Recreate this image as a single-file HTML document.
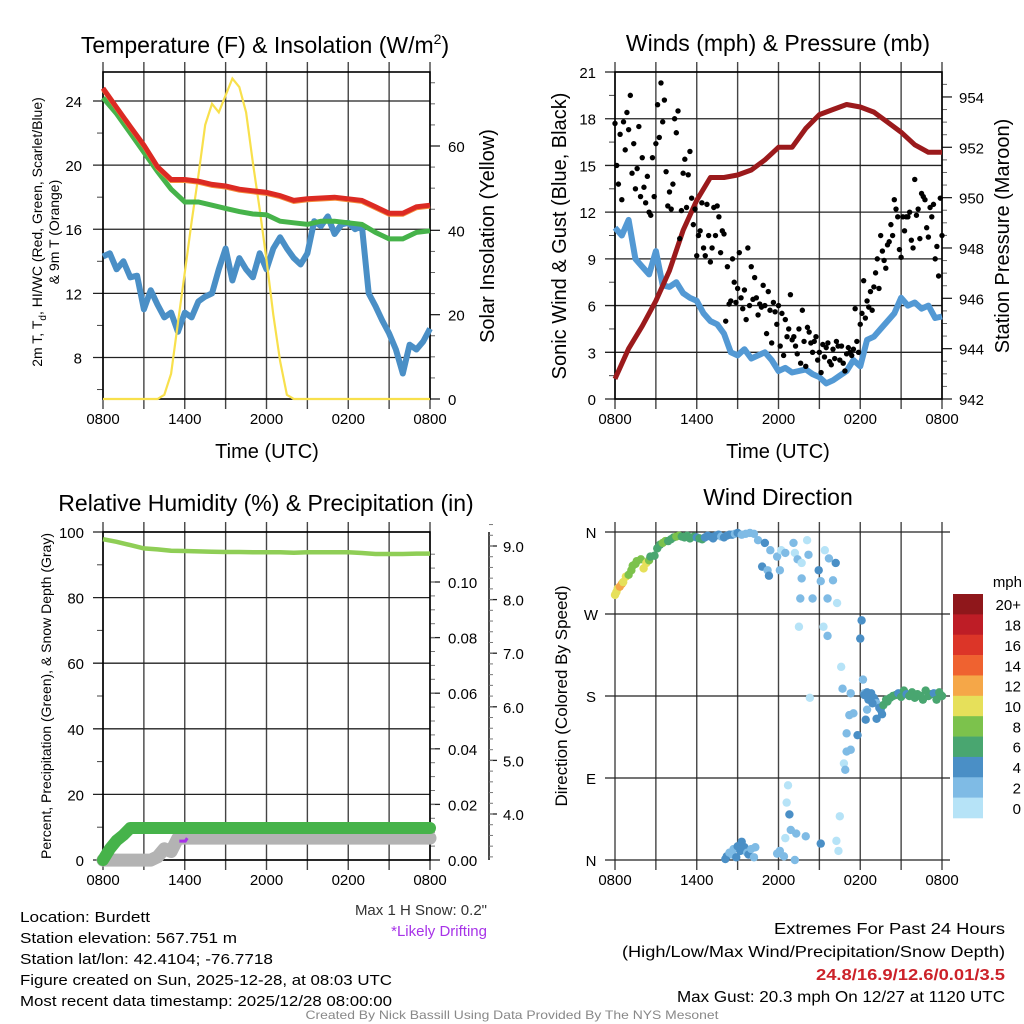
<!DOCTYPE html>
<html><head><meta charset="utf-8"><style>
html,body{margin:0;padding:0;background:#fff;}
svg{display:block;font-family:"Liberation Sans",Arial,sans-serif;}
</style></head><body>
<svg id="c" width="1024" height="1024" viewBox="0 0 1024 1024" xmlns="http://www.w3.org/2000/svg"></svg>
<script>
// ---------- data ----------
const hours = [0,1,2,3,4,5,6,7,8,9,10,11,12,13,14,15,16,17,18,19,20,21,22,23,24];
const tempF = [24.8,23.6,22.4,21.25,19.9,19.1,19.1,19.0,18.8,18.7,18.5,18.4,18.3,18.1,17.8,17.9,17.95,18.0,17.9,17.8,17.4,17.0,17.0,17.4,17.5];
const dewF = [24.2,23.2,22.0,20.8,19.6,18.5,17.7,17.7,17.5,17.3,17.1,16.95,16.9,16.5,16.4,16.3,16.5,16.5,16.4,16.3,15.8,15.4,15.4,15.8,15.9];
const windChillF = [14.3,14.5,13.5,14.0,13.0,13.1,11.0,12.2,11.3,10.5,10.8,9.6,10.8,10.5,11.5,11.8,12.0,13.5,14.8,12.8,14.2,13.5,13.0,14.5,13.5,14.8,15.5,14.8,14.2,13.8,14.5,16.5,16.2,16.8,15.7,16.3,16.4,16.0,16.2,12.0,11.2,10.3,9.5,8.5,7.0,8.8,8.5,9.0,9.8];
const insolation = [0,0,0,0,0,0,0,0,0,1,6,18,30,42,53,65,70,68,72,76,74,68,56,45,33,20,9,1,0,0,0,0,0,0,0,0,0,0,0,0,0,0,0,0,0,0,0,0,0];
const windMph = [11,10.5,11.5,9,8.5,8,9.5,7.3,7.2,7.5,6.8,6.5,6.3,5.5,5.0,4.8,4.2,3.0,2.8,3.2,2.6,2.8,3.0,2.5,1.8,2.0,1.7,1.8,1.9,1.6,1.4,1.0,1.2,1.5,1.8,2.5,2.1,3.8,4.0,4.5,5.0,5.5,6.5,6.0,6.2,5.8,6.0,5.2,5.3];
const pressureMb = [942.8,944.0,944.9,945.9,947.1,948.7,949.9,950.8,950.8,950.9,951.1,951.5,952.0,952.0,952.75,953.3,953.5,953.7,953.6,953.4,953.0,952.6,952.1,951.8,951.8];
const gustMph = [17.7,15.0,13.8,17.0,12.8,17.8,16.0,18.4, 17.3,19.5,14.5,16.4,13.5,14.8,17.5,13.0, 15.5,13.6,12.6,14.3,12.0,11.8,15.5,13.0, 16.4,18.9,16.8,20.3,17.8,19.2,14.6,12.4, 13.3,12.2,13.8,18.0,17.1,18.5,10.3,12.1, 14.5,15.4,12.3,14.4,15.9,12.9,11.2,12.2, 9.2,10.5,10.8,12.6,9.7,9.2,12.5,10.5, 8.8,9.7,12.3,10.5,12.4,11.7,9.4,10.8, 10.6,5.0,8.5,6.1,6.3,9.0,7.5,6.2, 7.1,9.4,6.5,5.8,7.0,5.1,9.7,6.0, 8.5,6.4,7.8,6.5,5.4,6.1,5.9,7.3, 6.0,4.2,6.9,5.7,3.6,6.2,5.6,4.8, 6.0,3.4,5.5,2.8,5.1,4.0,4.5,6.7, 3.8,4.0,3.4,2.9,4.5,2.3,5.7,3.7, 2.1,4.6,4.3,3.6,3.0,3.7,4.0,2.5, 3.0,1.7,3.5,2.7,3.3,3.6,2.4,2.2, 3.2,2.6,3.7,3.4,2.5,3.4,2.3,1.8, 2.9,3.3,3.0,2.8,3.2,5.8,3.7,3.0, 4.8,5.5,7.6,5.2,6.3,5.9,6.9,5.7, 7.2,8.1,9.0,7.1,10.5,9.5,8.9,8.4, 9.9,10.1,11.2,10.5,12.8,12.2,11.7,9.6, 9.1,11.7,10.8,11.7,11.7,12.0,10.2,9.7, 14.1,11.8,12.2,10.3,13.2,13.0,12.8,11.0, 10.4,12.3,11.7,12.5,9.0,9.8,7.9,12.9, 10.5];
const rhPct = [97.8,97.0,96.0,95.0,94.7,94.3,94.2,94.1,94.0,93.9,93.9,93.8,93.8,93.8,93.7,93.8,93.8,93.8,93.8,93.6,93.3,93.3,93.3,93.4,93.4];
const precipIn = [0,0.004,0.007,0.009,0.0115,0.0115,0.0115,0.0115,0.0115,0.0115,0.0115,0.0115,0.0115,0.0115,0.0115,0.0115,0.0115,0.0115,0.0115,0.0115,0.0115,0.0115,0.0115,0.0115,0.0115,0.0115,0.0115,0.0115,0.0115,0.0115,0.0115,0.0115,0.0115,0.0115,0.0115,0.0115,0.0115,0.0115,0.0115,0.0115,0.0115,0.0115,0.0115,0.0115,0.0115,0.0115,0.0115,0.0115,0.0115];
const snowIn = [3.14,3.14,3.14,3.14,3.14,3.14,3.14,3.14,3.2,3.35,3.3,3.55,3.55,3.55,3.55,3.55,3.55,3.55,3.55,3.55,3.55,3.55,3.55,3.55,3.55,3.55,3.55,3.55,3.55,3.55,3.55,3.55,3.55,3.55,3.55,3.55,3.55,3.55,3.55,3.55,3.55,3.55,3.55,3.55,3.55,3.55,3.55,3.55,3.55];
const dirTime = [0,0.1,0.2,0.35,0.5,0.6,0.8,1.0,1.2,1.3,1.5,1.6,1.9,2.1,2.3,2.5,2.6,2.9,3.1,3.3,3.5,3.7,3.9,4.1,4.3,4.5,4.7,4.9,5.1,5.3,5.5,5.8,6.0,6.2,6.4,6.6,6.8,7.0,7.2,7.4,7.6,7.8,8.0,8.2,8.4,8.6,8.8,9.0,9.3,9.6,9.9,10.2,10.5,
 10.8,11.0,11.2,11.3,11.4,11.9,12.1,12.2,12.5,13.1,13.2,13.4,13.7,13.7,13.6,13.5,14.1,14.2,14.3,14.5,14.95,15.1,15.4,15.7,15.6,15.3,15.6,16.0,16.2,16.3,16.6,16.7,16.8,16.9,17.0,17.0,17.3,17.2,17.5,17.3,18.1,18.0,17.8,18.4,18.2,18.3,
 18.3,18.5,18.6,18.8,19.0,19.1,19.2,19.4,19.5,19.7,19.9,20.0,20.2,20.4,20.6,20.8,21.0,21.2,21.4,21.6,21.8,22.0,22.2,22.4,22.6,22.8,23.0,23.2,23.4,23.6,23.8,24.0,18.5,18.9,19.6,19.2,
 8.1,8.2,8.4,8.6,8.7,8.9,9.0,9.2,9.3,9.5,9.7,9.8,10.0,10.2,10.3,11.9,12.1,12.4,12.5,12.6,12.7,12.8,12.9,13.2,13.3,14.0,15.1,16.25,16.4,16.5];
const dirDeg = [291,294,298,300,303,305,311,313,318,323,325,328,330,320,326,329,333,334,342,346,348,350,350,352,354,355,356,355,354,356,353,355,354,353,352,354,356,355,353,356,357,355,354,356,357,357,358,359,357,358,359,358,351,
 322,348,318,312,340,333,318,340,337,348,337,330,326,309,287,256,351,335,178,287,318,306,340,331,287,256,246,307,326,282,212,188,106,99,139,119,121,159,161,183,263,243,137,154,198,183,
 181,184,176,183,178,175,172,167,165,170,176,174,178,180,181,183,179,186,182,180,184,178,182,180,176,186,180,182,183,176,184,180,165,172,160,155,
 1,4,8,6,12,3,15,10,20,14,8,6,12,3,14,7,10,4,24,63,82,50,33,0,29,26,18,21,10,48];
const dirSpd = [10,11,10,12,13,11,10,9,9,8,8,9,9,10,10,8,7,6,7,7,8,8,7,7,6,8,8,7,7,6,6,7,5,6,6,5,4,4,5,4,4,3,4,5,4,4,3,4,3,3,2,3,3,
 4,5,3,4,3,2,2,1,2,2,1,2,1,2,2,1,1,3,1,2,4,3,1,3,2,1,2,3,4,1,1,2,1,3,2,2,2,2,2,2,4,4,4,4,3,3,
 4,4,4,5,4,4,3,4,5,6,6,7,6,6,7,4,7,6,5,6,7,6,6,7,6,6,7,6,4,7,6,6,3,4,4,4,
 4,4,3,3,3,4,5,4,4,4,3,4,3,3,3,3,2,2,1,1,1,4,2,2,3,2,4,1,1,1];
const timeLabels = ["0800","1400","2000","0200","0800"];
const speedBinLabels = ["20+","18","16","14","12","10","8","6","4","2","0"];
const speedBinColors = ["#8f171b","#be1d26","#dc3528","#ef6230","#f5a748","#e6e05a","#7cc24c","#49a670","#4a8fc6","#7fbbe5","#b6e3f7"];

// ---------- helpers ----------
const NS="http://www.w3.org/2000/svg";
const svg=document.getElementById('c');
function mk(tag,attrs,parent){const e=document.createElementNS(NS,tag);for(const k in attrs)e.setAttribute(k,attrs[k]);(parent||svg).appendChild(e);return e;}
function txt(s,x,y,size,anchor,parent,extra){const e=mk('text',Object.assign({x:x,y:y,'font-size':size,'text-anchor':anchor||'middle',fill:'#000'},extra||{}),parent);e.textContent=s;return e;}
function line(x1,y1,x2,y2,col,w,parent){return mk('line',{x1:x1,y1:y1,x2:x2,y2:y2,stroke:col||'#000','stroke-width':w||1},parent);}
function pathFrom(xs,ys){let d='';for(let i=0;i<xs.length;i++)d+=(i?'L':'M')+xs[i].toFixed(1)+' '+ys[i].toFixed(1);return d;}

const X0=103,X1=430,X0b=615,X1b=942;
function xA(h){return X0+h*(X1-X0)/24;}
function xB(h){return X0b+h*(X1b-X0b)/24;}

function timeAxis(g,xf,yT,yB){
  for(let h=0;h<=24;h+=3){
    const l=line(xf(h),yT-10,xf(h),yB+10,'#444',1.4,g);
    
    
  }
  timeLabels.forEach((s,i)=>{
    const t=txt(s,xf(i*6),yB+25,15,'middle',g);
    
    
  });
}

// ================= Panel 1 =================
const g1=mk('g',{});


function tY(v){return 101+(24-v)*16.03;}
function iY(v){return 399-v*(253/60);}
timeAxis(g1,xA,72,399);
[8,12,16,20,24].forEach(v=>{const l=line(93,tY(v),X1,tY(v),'#222',1.3,g1);
  const t=txt(String(v),82,tY(v)+6,15,'end',g1);});
[6,10,14,18,22].forEach(v=>line(97,tY(v),X0,tY(v),'#444',1,g1));
[0,20,40,60].forEach(v=>{line(X1,iY(v),X1+10,iY(v),'#222',1.3,g1);
  const t=txt(String(v),448,iY(v)+6,15,'start',g1);});
[5,10,15,25,30,35,45,50,55,65,70,75].forEach(v=>line(X1,iY(v),X1+5,iY(v),'#666',1,g1));
mk('rect',{x:X0,y:72,width:X1-X0,height:327,fill:'none',stroke:'#000','stroke-width':1.6},g1);
const t1=txt('Temperature (F) & Insolation (W/m',265,53,23,'middle',g1);

const sup=mk('tspan',{dy:-9,'font-size':14},t1);sup.textContent='2';
const sup2=mk('tspan',{dy:9},t1);sup2.textContent=')';
const xt1=txt('Time (UTC)',267,458,20,'middle',g1);
const yt1=txt('2m T, T',0,0,14,'middle',g1,{transform:'translate(42,232) rotate(-90)'});

const sb=mk('tspan',{dy:4,'font-size':10},yt1);sb.textContent='d';
const sb2=mk('tspan',{dy:-4},yt1);sb2.textContent=', HI/WC (Red, Green, Scarlet/Blue)';
const yt1b=txt('& 9m T (Orange)',0,0,14,'middle',g1,{transform:'translate(59,232) rotate(-90)'});

const yr1=txt('Solar Insolation (Yellow)',0,0,20,'middle',g1,{transform:'translate(494,236) rotate(-90)'});


const half=(i)=>i*0.5;
let p=mk('path',{d:pathFrom(windChillF.map((v,i)=>xA(half(i))),windChillF.map(v=>tY(v))),fill:'none',stroke:'#4a8fc6','stroke-width':6,'stroke-linejoin':'round'},g1);

p=mk('path',{d:pathFrom(insolation.map((v,i)=>xA(half(i))),insolation.map(v=>iY(v))),fill:'none',stroke:'#f8e04c','stroke-width':2.2},g1);

p=mk('path',{d:pathFrom(hours.map(xA),dewF.map(tY)),fill:'none',stroke:'#46b34a','stroke-width':5},g1);

p=mk('path',{d:pathFrom(hours.map(xA),tempF.map(v=>tY(v)+1.5)),fill:'none',stroke:'#f58b3a','stroke-width':4},g1);

p=mk('path',{d:pathFrom(hours.map(xA),tempF.map(tY)),fill:'none',stroke:'#dc2a23','stroke-width':5},g1);


// ================= Panel 2 =================
const g2=mk('g',{});


function wY(v){return 399-v*15.57;}
function pY(v){return 399-(v-942)*25.17;}
timeAxis(g2,xB,72,399);
[0,3,6,9,12,15,18,21].forEach(v=>{const l=line(605,wY(v),X1b,wY(v),'#222',1.3,g2);
  const t=txt(String(v),596,wY(v)+6,15,'end',g2);});
[1.5,4.5,7.5,10.5,13.5,16.5,19.5].forEach(v=>line(609,wY(v),X0b,wY(v),'#444',1,g2));
[942,944,946,948,950,952,954].forEach(v=>{line(X1b,pY(v),X1b+10,pY(v),'#222',1.3,g2);
  const t=txt(String(v),959,pY(v)+6,15,'start',g2);});
for(let v=942.5;v<955;v+=0.5){if(v%2)line(X1b,pY(v),X1b+5,pY(v),'#666',1,g2);}
mk('rect',{x:X0b,y:72,width:X1b-X0b,height:327,fill:'none',stroke:'#000','stroke-width':1.6},g2);
const t2=txt('Winds (mph) & Pressure (mb)',778,51,23,'middle',g2);
const xt2=txt('Time (UTC)',778,458,20,'middle',g2);
const yt2=txt('Sonic Wind & Gust (Blue, Black)',0,0,20,'middle',g2,{transform:'translate(566,236) rotate(-90)'});
const yr2=txt('Station Pressure (Maroon)',0,0,20,'middle',g2,{transform:'translate(1009,236) rotate(-90)'});
p=mk('path',{d:pathFrom(windMph.map((v,i)=>xB(half(i))),windMph.map(wY)),fill:'none',stroke:'#5399d4','stroke-width':6,'stroke-linejoin':'round'},g2);

p=mk('path',{d:pathFrom(hours.map(xB),pressureMb.map(pY)),fill:'none',stroke:'#9b1a1c','stroke-width':5,'stroke-linejoin':'round'},g2);

gustMph.forEach((v,i)=>{
  const c=mk('circle',{cx:xB(i/8),cy:wY(v),r:2.7,fill:'#000'},g2);
  
  
});

// ================= Panel 3 =================
const g3=mk('g',{});


function rY(v){return 860-v*3.28;}
function prY(v){return 860-v*2780;}
function sY(v){return 814-(v-4)*53.6;}
timeAxis(g3,xA,532,860);
[0,20,40,60,80,100].forEach(v=>{const l=line(93,rY(v),X1,rY(v),'#222',1.3,g3);
  const t=txt(String(v),84,rY(v)+6,15,'end',g3);});
[10,30,50,70,90].forEach(v=>line(97,rY(v),X0,rY(v),'#444',1,g3));
[0,0.02,0.04,0.06,0.08,0.10].forEach(v=>{line(X1,prY(v),X1+10,prY(v),'#222',1.3,g3);
  const t=txt(v.toFixed(2),448,prY(v)+6,15,'start',g3);});
for(let v=0.005;v<0.115;v+=0.005){line(X1,prY(v),X1+5,prY(v),'#777',1,g3);}
line(489,532,489,860,'#000',1.4,g3);
[4,5,6,7,8,9].forEach(v=>{line(489,sY(v),497,sY(v),'#222',1.3,g3);
  const t=txt(v.toFixed(1),503,sY(v)+6,15,'start',g3);});
for(let v=3.2;v<9.4;v+=0.2){line(489,sY(v),493,sY(v),'#777',1,g3);}
mk('rect',{x:X0,y:532,width:X1-X0,height:328,fill:'none',stroke:'#000','stroke-width':1.6},g3);
const t3=txt('Relative Humidity (%) & Precipitation (in)',266,511,23,'middle',g3);
const yt3=txt('Percent, Precipitation (Green), & Snow Depth (Gray)',0,0,14,'middle',g3,{transform:'translate(51,696) rotate(-90)'});
p=mk('path',{d:pathFrom(snowIn.map((v,i)=>xA(half(i))),snowIn.map(sY)),fill:'none',stroke:'#b3b3b3','stroke-width':13,'stroke-linecap':'round','stroke-linejoin':'round'},g3);

p=mk('path',{d:'M'+xA(5.6)+' '+(sY(3.55)+3)+' l6 0 l2 -3',fill:'none',stroke:'#a733e8','stroke-width':3},g3);

p=mk('path',{d:pathFrom(precipIn.map((v,i)=>xA(half(i))),precipIn.map(prY)),fill:'none',stroke:'#46b34a','stroke-width':12,'stroke-linecap':'round','stroke-linejoin':'round'},g3);

p=mk('path',{d:pathFrom(hours.map(xA),rhPct.map(rY)),fill:'none',stroke:'#8fce56','stroke-width':4.5},g3);


// ================= Panel 4 =================
const g4=mk('g',{});


function dY(d){return 860-d*328/360;}
timeAxis(g4,xB,532,860);
["N","E","S","W","N"].forEach((s,i)=>{const d=i*90;
  const l=line(605,dY(d),950,dY(d),'#222',1.3,g4);
  const t=txt(s,591,dY(d)+6,15,'middle',g4);});
const t4=txt('Wind Direction',778,505,23,'middle',g4);
const yt4=txt('Direction (Colored By Speed)',0,0,17,'middle',g4,{transform:'translate(567,696) rotate(-90)'});
function spdColor(s){const bin=Math.min(10,Math.floor(s/2));return speedBinColors[10-bin];}
dirTime.forEach((t,i)=>{
  const c=mk('circle',{cx:xB(t),cy:dY(dirDeg[i]),r:4.2,fill:spdColor(dirSpd[i])},g4);
  
  
});
const cb=mk('g',{},g4);


const cbH=(818-594)/11;
speedBinLabels.forEach((s,i)=>{
  mk('rect',{x:953,y:594+i*cbH,width:30,height:cbH+0.3,fill:speedBinColors[i]},cb);
  const t=txt(s,1021,594+i*cbH+cbH/2+6,15,'end',cb);
  
  
});
const mph=txt('mph',1022,587,15,'end',cb);

// ================= Footer text =================
const foot=mk('g',{});


const leftLines=[["Location: Burdett",130],["Station elevation: 567.751 m",217],["Station lat/lon: 42.4104; -76.7718",253],["Figure created on Sun, 2025-12-28, at 08:03 UTC",372],["Most recent data timestamp: 2025/12/28 08:00:00",372]];
leftLines.forEach((a,i)=>{const t=txt(a[0],20,922+i*21,15,'start',foot,{textLength:a[1],lengthAdjust:'spacingAndGlyphs'});
  });
let ft=txt('Max 1 H Snow: 0.2"',487,915,15,'end',foot,{fill:'#333'});
ft=txt('*Likely Drifting',487,936,15,'end',foot,{fill:'#a733e8'});
ft=txt('Extremes For Past 24 Hours',1005,934,16,'end',foot,{textLength:231,lengthAdjust:'spacingAndGlyphs'});
ft=txt('(High/Low/Max Wind/Precipitation/Snow Depth)',1005,957,16,'end',foot,{textLength:383,lengthAdjust:'spacingAndGlyphs'});
ft=txt('24.8/16.9/12.6/0.01/3.5',1005,980,16,'end',foot,{fill:'#cc2229','font-weight':'bold',textLength:189,lengthAdjust:'spacingAndGlyphs'});
ft=txt('Max Gust: 20.3 mph On 12/27 at 1120 UTC',1005,1002,16,'end',foot,{textLength:328,lengthAdjust:'spacingAndGlyphs'});
ft=txt('Created By Nick Bassill Using Data Provided By The NYS Mesonet',512,1019,12,'middle',foot,{fill:'#888',textLength:413,lengthAdjust:'spacingAndGlyphs'});
</script>
</body></html>
